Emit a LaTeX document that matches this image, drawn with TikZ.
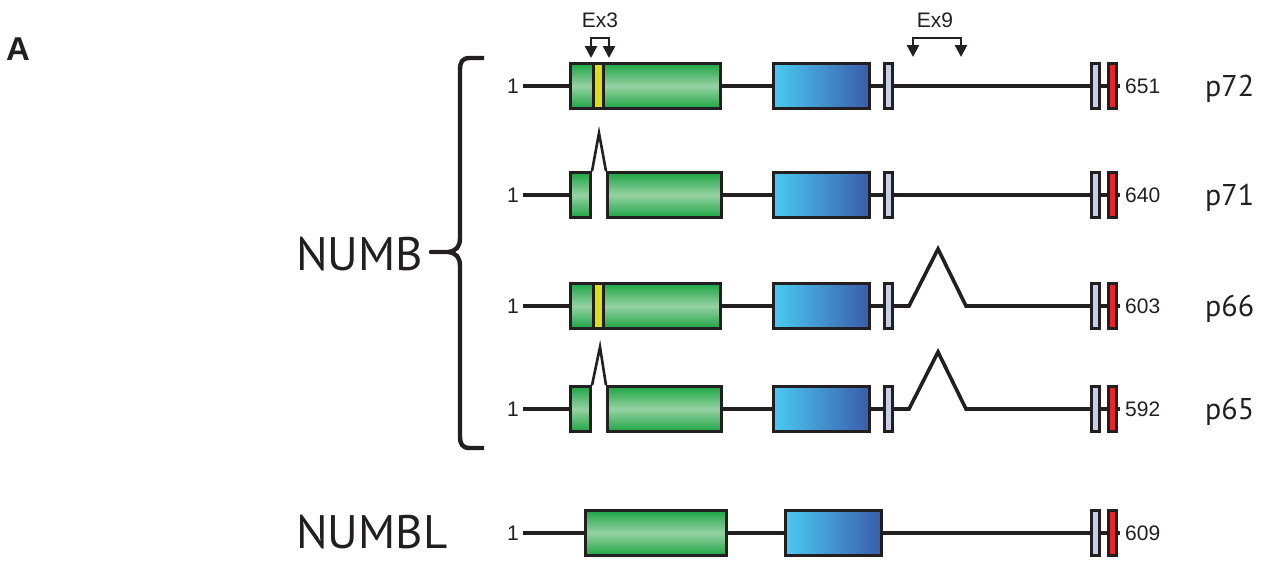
\documentclass[tikz,border=0pt]{standalone}
\usepackage{fontspec}
\setmainfont{Liberation Sans}
\newfontfamily\bigfont{PT Sans}
\usetikzlibrary{arrows.meta}
\definecolor{edge}{RGB}{35,31,32}
\definecolor{gdark}{RGB}{30,166,70}
\definecolor{glight}{RGB}{150,210,162}
\definecolor{bleft}{RGB}{74,202,242}
\definecolor{bright}{RGB}{58,92,170}
\definecolor{lav}{RGB}{200,206,232}
\definecolor{redx}{RGB}{236,36,40}
\definecolor{yel}{RGB}{218,222,32}
\begin{document}
\begin{tikzpicture}[x=1pt,y=-1pt,
  box/.style={draw=edge, line width=3pt, inner sep=0pt, minimum height=44.5pt},
  gbox/.style={box, top color=gdark, bottom color=gdark, middle color=glight},
  bbox/.style={box, left color=bleft, right color=bright},
  lbox/.style={box, fill=lav, minimum width=7.5pt, line width=2.6pt},
  rbox/.style={box, fill=redx, minimum width=7.5pt, line width=2.6pt},
  ybox/.style={box, fill=yel, minimum width=10.5pt},
  gene/.style={line width=3.6pt, draw=edge, line join=miter},
  splice/.style={line width=2.6pt, draw=edge, line join=miter},
  num/.style={font=\fontsize{21}{22}\selectfont, inner sep=0pt, text=edge},
  iso/.style={font=\bigfont\fontsize{30}{30}\selectfont, inner sep=0pt, anchor=base west, text=edge},
  big/.style={font=\bigfont\fontsize{47}{48}\selectfont, inner sep=0pt, anchor=base west, text=edge},
  exarrow/.style={line width=2.6pt, draw=edge, {Triangle[length=12pt,width=12pt]}-{Triangle[length=12pt,width=12pt]}},
]
\useasboundingbox (0,0) rectangle (1263,560);

% panel label
\node[font=\fontsize{33}{33}\selectfont\bfseries, inner sep=0pt, anchor=base west, text=edge] (A) at (6,60) {A};

% exon markers
\node[num] (ex3) at (600,20) {Ex3};
\node[num] (ex9) at (935,20) {Ex9};
\coordinate (x3a) at (591,58); \coordinate (x3b) at (591,38);
\coordinate (x3c) at (609,38); \coordinate (x3d) at (609,58);
\draw[exarrow] (x3a) -- (x3b) -- (x3c) -- (x3d);
\coordinate (x9a) at (913,57); \coordinate (x9b) at (913,38);
\coordinate (x9c) at (961,38); \coordinate (x9d) at (961,57);
\draw[exarrow] (x9a) -- (x9b) -- (x9c) -- (x9d);

% brace and gene names
\node[big] (numb) at (296,270) {NUMB};
\node[big] (numbl) at (296,548) {NUMBL};
\coordinate (bt) at (484,58);
\coordinate (bb) at (484,448);
\coordinate (bm) at (431,252);
\draw[line width=4.4pt, edge, line join=round]
  (bt) -- (470,58) .. controls (462,58) and (460,62) .. (460,70)
  -- (460,238) .. controls (460,247) and (456,251) .. (448,252) -- (bm)
  -- (448,252) .. controls (456,253) and (460,257) .. (460,266)
  -- (460,436) .. controls (460,444) and (462,448) .. (470,448) -- (bb);

% ---------- row 1: p72 ----------
\node[num, anchor=east] (o1) at (519,86) {1};
\node[gbox, minimum width=150pt] (g1) at (645.5,86) {};
\node[ybox] (y1) at (598.5,86) {};
\node[bbox, minimum width=96pt] (b1) at (821.5,86) {};
\node[lbox] (la1) at (888.5,86) {};
\node[lbox] (lb1) at (1095.5,86) {};
\node[rbox] (r1) at (1112.5,86) {};
\coordinate (e1) at (1120,86);
\node[num, anchor=west] (c1) at (1125,86) {651};
\node[iso] (p1) at (1205,96) {p72};
\draw[gene, shorten <=4pt] (o1.east) -- (g1.west);
\draw[gene] (g1.east) -- (b1.west);
\draw[gene] (b1.east) -- (la1.west);
\draw[gene] (la1.east) -- (lb1.west);
\draw[gene] (lb1.east) -- (r1.west);
\draw[gene] (r1.east) -- (e1);

% ---------- row 2: p71 ----------
\node[num, anchor=east] (o2) at (519,195) {1};
\node[gbox, minimum width=20pt] (gl2) at (580.5,195) {};
\node[gbox, minimum width=114pt] (gr2) at (664.5,195) {};
\coordinate (k2) at (599,133);
\node[bbox, minimum width=96pt] (b2) at (821.5,195) {};
\node[lbox] (la2) at (888.5,195) {};
\node[lbox] (lb2) at (1095.5,195) {};
\node[rbox] (r2) at (1112.5,195) {};
\coordinate (e2) at (1120,195);
\node[num, anchor=west] (c2) at (1125,195) {640};
\node[iso] (p2) at (1205,205) {p71};
\draw[gene, shorten <=4pt] (o2.east) -- (gl2.west);
\draw[splice] (gl2.north east) -- (k2) -- (gr2.north west);
\draw[gene] (gr2.east) -- (b2.west);
\draw[gene] (b2.east) -- (la2.west);
\draw[gene] (la2.east) -- (lb2.west);
\draw[gene] (lb2.east) -- (r2.west);
\draw[gene] (r2.east) -- (e2);

% ---------- row 3: p66 ----------
\node[num, anchor=east] (o3) at (519,306) {1};
\node[gbox, minimum width=150pt] (g3) at (645.5,306) {};
\node[ybox] (y3) at (598.5,306) {};
\node[bbox, minimum width=96pt] (b3) at (821.5,306) {};
\node[lbox] (la3) at (888.5,306) {};
\node[lbox] (lb3) at (1095.5,306) {};
\node[rbox] (r3) at (1112.5,306) {};
\coordinate (e3) at (1120,306);
\coordinate (s3a) at (909,306);
\coordinate (k3) at (938,249);
\coordinate (s3b) at (966,306);
\node[num, anchor=west] (c3) at (1125,306) {603};
\node[iso] (p3) at (1205,316) {p66};
\draw[gene, shorten <=4pt] (o3.east) -- (g3.west);
\draw[gene] (g3.east) -- (b3.west);
\draw[gene] (b3.east) -- (la3.west);
\draw[gene] (la3.east) -- (s3a) -- (k3) -- (s3b) -- (lb3.west);
\draw[gene] (lb3.east) -- (r3.west);
\draw[gene] (r3.east) -- (e3);

% ---------- row 4: p65 ----------
\node[num, anchor=east] (o4) at (519,409) {1};
\node[gbox, minimum width=20pt] (gl4) at (580.5,409) {};
\node[gbox, minimum width=114pt] (gr4) at (664.5,409) {};
\coordinate (k4) at (600,347);
\node[bbox, minimum width=96pt] (b4) at (821.5,409) {};
\node[lbox] (la4) at (888.5,409) {};
\node[lbox] (lb4) at (1095.5,409) {};
\node[rbox] (r4) at (1112.5,409) {};
\coordinate (e4) at (1120,409);
\coordinate (s4a) at (909,409);
\coordinate (k4b) at (938,352);
\coordinate (s4b) at (966,409);
\node[num, anchor=west] (c4) at (1125,409) {592};
\node[iso] (p4) at (1205,419) {p65};
\draw[gene, shorten <=4pt] (o4.east) -- (gl4.west);
\draw[splice] (gl4.north east) -- (k4) -- (gr4.north west);
\draw[gene] (gr4.east) -- (b4.west);
\draw[gene] (b4.east) -- (la4.west);
\draw[gene] (la4.east) -- (s4a) -- (k4b) -- (s4b) -- (lb4.west);
\draw[gene] (lb4.east) -- (r4.west);
\draw[gene] (r4.east) -- (e4);

% ---------- row 5: NUMBL ----------
\node[num, anchor=east] (o5) at (519,533) {1};
\node[gbox, minimum width=141pt] (g5) at (656,533) {};
\node[bbox, minimum width=96pt] (b5) at (833.5,533) {};
\node[lbox] (lb5) at (1095.5,533) {};
\node[rbox] (r5) at (1112.5,533) {};
\coordinate (e5) at (1120,533);
\node[num, anchor=west] (c5) at (1125,533) {609};
\draw[gene, shorten <=4pt] (o5.east) -- (g5.west);
\draw[gene] (g5.east) -- (b5.west);
\draw[gene] (b5.east) -- (lb5.west);
\draw[gene] (lb5.east) -- (r5.west);
\draw[gene] (r5.east) -- (e5);
\end{tikzpicture}
\end{document}
